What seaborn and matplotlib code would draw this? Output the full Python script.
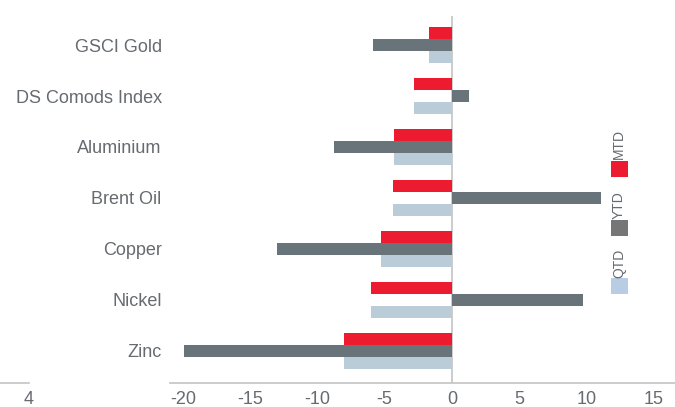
import matplotlib
matplotlib.use("Agg")
import matplotlib.pyplot as plt
from matplotlib.patches import Rectangle
from matplotlib.ticker import MultipleLocator, FixedLocator
import seaborn as sns
import pandas as pd

categories = ["GSCI Gold", "DS Comods Index", "Aluminium", "Brent Oil", "Copper", "Nickel", "Zinc"]
series = ["MTD", "YTD", "QTD"]
mtd = [-1.7, -2.8, -4.3, -4.4, -5.3, -6.0, -8.0]
ytd = [-5.9, 1.3, -8.8, 11.1, -13.0, 9.7, -19.9]
qtd = [-1.7, -2.8, -4.3, -4.4, -5.3, -6.0, -8.0]
x_ticks = [-20, -15, -10, -5, 0, 5, 10, 15]

bar_colors = {"MTD": "#ED1B2F", "YTD": "#68737A", "QTD": "#BACCD8"}
legend_colors = {"MTD": "#ED1B2F", "YTD": "#767676", "QTD": "#B8CCE4"}
text_color = "#666b70"
axis_color = "#c4c4c4"

rows = []
for name, vals in zip(series, [mtd, ytd, qtd]):
    for cat, v in zip(categories, vals):
        rows.append({"Commodity": cat, "Period": name, "Change": v})
df = pd.DataFrame(rows)

sns.set_style("white")
plt.rcParams["font.family"] = ["Liberation Sans", "DejaVu Sans"]
plt.rcParams["axes.unicode_minus"] = False

fig = plt.figure(figsize=(6.75, 4.07), dpi=100)
W, H = 675, 407
ax = fig.add_axes([170 / W, 1 - 383 / H, 505 / W, (383 - 16) / H])

sns.barplot(data=df, x="Change", y="Commodity", hue="Period", order=categories,
            hue_order=series, palette=bar_colors, orient="h", width=0.72,
            linewidth=0, saturation=1, ax=ax, legend=False)

ax.set_xlim(-20.95, 16.57)
ax.set_ylim(6.63, -0.57)
ax.set_xlabel("")
ax.set_ylabel("")
ax.axvline(0, color=axis_color, lw=1.2, zorder=0)

for s in ["top", "right", "left"]:
    ax.spines[s].set_visible(False)
ax.spines["bottom"].set_color(axis_color)
ax.spines["bottom"].set_linewidth(1.2)

ax.xaxis.set_major_locator(FixedLocator(x_ticks))
ax.xaxis.set_minor_locator(MultipleLocator(1))
ax.tick_params(axis="x", which="major", direction="in", length=4, color=axis_color,
               labelsize=13, labelcolor=text_color, pad=6)
ax.tick_params(axis="x", which="minor", direction="in", length=2.5, color=axis_color)
ax.tick_params(axis="y", length=0, labelsize=13, labelcolor=text_color, pad=6)

# neighbouring axis fragment at the far left
ax2 = fig.add_axes([0, 1 - 383 / H, 28.5 / W, 0.0001])
ax2.set_xlim(4 - 28.5 / 13.46, 4)
for s in ["top", "right", "left"]:
    ax2.spines[s].set_visible(False)
ax2.spines["bottom"].set_color(axis_color)
ax2.spines["bottom"].set_linewidth(1.2)
ax2.set_yticks([])
ax2.xaxis.set_major_locator(FixedLocator([4]))
ax2.xaxis.set_minor_locator(FixedLocator([2.2, 3.1]))
ax2.tick_params(axis="x", which="major", direction="in", length=4, color=axis_color,
                labelsize=13, labelcolor=text_color, pad=6)
ax2.tick_params(axis="x", which="minor", direction="in", length=2.5, color=axis_color)
ax2.patch.set_alpha(0)

# vertical legend on the right: (text centre, swatch centre) in pixels from top
legend_y = [(144, 169), (205, 228), (263, 286)]
for name, (ty, sy) in zip(series, legend_y):
    fig.text(619 / W, 1 - ty / H, name, rotation=90, ha="center", va="center",
             fontsize=10, color=text_color)
    fig.add_artist(Rectangle((610.5 / W, 1 - (sy + 8) / H), 17.5 / W, 16 / H,
                             transform=fig.transFigure, color=legend_colors[name], lw=0))

fig.savefig("out.png", dpi=100)
